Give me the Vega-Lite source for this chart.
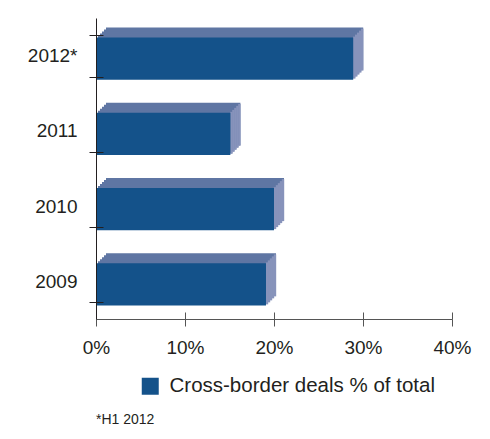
{
  "$schema": "https://vega.github.io/schema/vega-lite/v6.json",
  "width": 356,
  "height": 301,
  "autosize": {"type": "none"},
  "padding": {"left": 96, "top": 18, "right": 38, "bottom": 120},
  "config": {
    "view": {"stroke": null},
    "font": "Liberation Sans",
    "axis": {"labelFont": "Liberation Sans", "labelColor": "#231f20", "labelFontSize": 19, "grid": false, "title": null}
  },
  "title": {
    "text": "*H1 2012",
    "orient": "bottom",
    "anchor": "start",
    "frame": "group",
    "fontSize": 14,
    "fontWeight": "normal",
    "color": "#231f20",
    "font": "Liberation Sans",
    "offset": 16
  },
  "data": {
    "values": [
      {"year": "2012*", "share": 0.289, "series": "Cross-border deals % of total"},
      {"year": "2011", "share": 0.151, "series": "Cross-border deals % of total"},
      {"year": "2010", "share": 0.200, "series": "Cross-border deals % of total"},
      {"year": "2009", "share": 0.191, "series": "Cross-border deals % of total"}
    ]
  },
  "resolve": {"axis": {"x": "independent", "y": "independent"}},
  "encoding": {
    "y": {
      "field": "year",
      "type": "nominal",
      "sort": ["2012*", "2011", "2010", "2009"],
      "scale": {"paddingInner": 0.44, "paddingOuter": 0.22},
      "axis": null
    },
    "x": {
      "field": "share",
      "type": "quantitative",
      "scale": {"domain": [0, 0.4]},
      "axis": null
    }
  },
  "layer": [
    {
      "mark": {"type": "bar", "color": "#5f76a3", "xOffset": 10, "yOffset": -7},
      "encoding": {
        "y": {
          "field": "year",
          "type": "nominal",
          "sort": ["2012*", "2011", "2010", "2009"],
          "scale": {"paddingInner": 0.44, "paddingOuter": 0.22},
          "axis": {
            "orient": "left",
            "tickBand": "extent",
            "tickSize": -7,
            "tickColor": "#231f20",
            "domain": false,
            "labels": false,
            "zindex": 1
          }
        },
        "x": {
          "field": "share",
          "type": "quantitative",
          "scale": {"domain": [0, 0.4]},
          "axis": {
            "orient": "bottom",
            "values": [0, 0.1, 0.2, 0.3, 0.4],
            "tickSize": -7,
            "tickColor": "#555555",
            "domain": false,
            "labels": false,
            "zindex": 1
          }
        }
      }
    },
    {"mark": {"type": "bar", "color": "#5f76a3", "xOffset": 8, "yOffset": -5}},
    {"mark": {"type": "bar", "color": "#5f76a3", "xOffset": 6, "yOffset": -3}},
    {"mark": {"type": "bar", "color": "#5f76a3", "xOffset": 4, "yOffset": -1}},
    {"mark": {"type": "bar", "color": "#5f76a3", "xOffset": 2, "yOffset": 1}},
    {"mark": {"type": "tick", "color": "#8793bb", "opacity": 1, "thickness": 2.4, "size": 42, "xOffset": 9, "yOffset": -6, "orient": "vertical"}},
    {"mark": {"type": "tick", "color": "#8793bb", "opacity": 1, "thickness": 2.4, "size": 42, "xOffset": 7, "yOffset": -4, "orient": "vertical"}},
    {"mark": {"type": "tick", "color": "#8793bb", "opacity": 1, "thickness": 2.4, "size": 42, "xOffset": 5, "yOffset": -2, "orient": "vertical"}},
    {"mark": {"type": "tick", "color": "#8793bb", "opacity": 1, "thickness": 2.4, "size": 42, "xOffset": 3, "yOffset": 0, "orient": "vertical"}},
    {"mark": {"type": "tick", "color": "#8793bb", "opacity": 1, "thickness": 2.4, "size": 42, "xOffset": 1, "yOffset": 2, "orient": "vertical"}},
    {
      "mark": {"type": "bar", "yOffset": 3},
      "encoding": {
        "y": {
          "field": "year",
          "type": "nominal",
          "sort": ["2012*", "2011", "2010", "2009"],
          "scale": {"paddingInner": 0.44, "paddingOuter": 0.22},
          "axis": {
            "orient": "left",
            "tickBand": "extent",
            "tickSize": 7,
            "tickColor": "#231f20",
            "domainColor": "#231f20",
            "labelPadding": 12,
            "zindex": 1
          }
        },
        "x": {
          "field": "share",
          "type": "quantitative",
          "scale": {"domain": [0, 0.4]},
          "axis": {
            "orient": "bottom",
            "values": [0, 0.1, 0.2, 0.3, 0.4],
            "format": ".0%",
            "labelFlush": false,
            "tickSize": 7,
            "tickColor": "#555555",
            "domainColor": "#555555",
            "labelPadding": 12,
            "zindex": 1
          }
        },
        "color": {
          "field": "series",
          "type": "nominal",
          "scale": {"range": ["#14528a"]},
          "legend": {
            "orient": "none",
            "legendX": 44,
            "legendY": 358,
            "direction": "horizontal",
            "title": null,
            "symbolType": "square",
            "symbolSize": 289,
            "symbolStrokeWidth": 0,
            "symbolOpacity": 1,
            "labelFontSize": 20.5,
            "labelLimit": 0,
            "labelFont": "Liberation Sans",
            "labelColor": "#231f20",
            "labelOffset": 9
          }
        }
      }
    }
  ]
}
